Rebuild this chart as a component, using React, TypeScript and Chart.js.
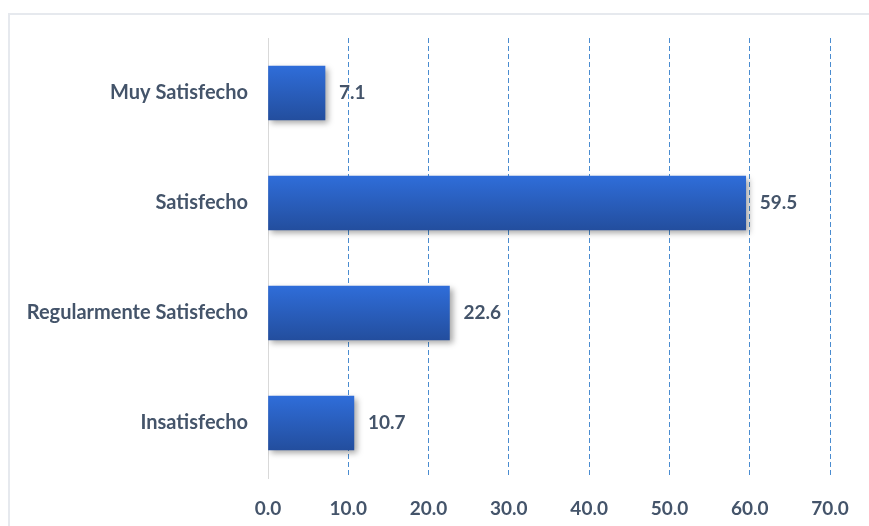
import React, { useEffect, useRef } from "react";
import { Chart, registerables } from "chart.js";

Chart.register(...registerables);

const categories = ["Muy Satisfecho", "Satisfecho", "Regularmente Satisfecho", "Insatisfecho"];
const values = [7.1, 59.5, 22.6, 10.7];
const xTicks = [0, 10, 20, 30, 40, 50, 60, 70];

const TEXT = "#44546A";
const FONT = "Lato";
const BAR_T = 54;

const shadowPlugin = {
  id: "barShadow",
  beforeDatasetsDraw(chart: any) {
    const ctx = chart.ctx;
    ctx.save();
    ctx.shadowColor = "rgba(0,0,0,0.35)";
    ctx.shadowBlur = 6;
    ctx.shadowOffsetX = 3;
    ctx.shadowOffsetY = 3;
  },
  afterDatasetsDraw(chart: any) {
    chart.ctx.restore();
    const ctx = chart.ctx;
    const meta = chart.getDatasetMeta(0);
    ctx.save();
    ctx.fillStyle = TEXT;
    ctx.font = `bold 19px ${FONT}`;
    ctx.textAlign = "left";
    ctx.textBaseline = "middle";
    meta.data.forEach((bar: any, i: number) => {
      ctx.fillText(values[i].toFixed(1), bar.x + 14, bar.y);
    });
    ctx.restore();
  },
};

export default function App() {
  const ref = useRef<HTMLCanvasElement>(null);
  useEffect(() => {
    const canvas = ref.current!;
    const chart = new Chart(canvas, {
      type: "bar",
      data: {
        labels: categories,
        datasets: [
          {
            data: values,
            barThickness: BAR_T,
            borderWidth: 0,
            backgroundColor: (c: any) => {
              const ch = c.chart;
              if (!ch.chartArea || c.dataIndex === undefined) return "#2A5DC0";
              const y = ch.scales.y.getPixelForValue(c.dataIndex);
              const g = ch.ctx.createLinearGradient(0, y - BAR_T / 2, 0, y + BAR_T / 2);
              g.addColorStop(0, "#2F6DD9");
              g.addColorStop(1, "#234E9E");
              return g;
            },
          },
        ],
      },
      options: {
        indexAxis: "y",
        responsive: false,
        animation: false,
        layout: { padding: { left: 0, top: 38, right: 39, bottom: 0 } },
        plugins: { legend: { display: false }, tooltip: { enabled: false } },
        scales: {
          x: {
            min: 0,
            max: 70,
            afterBuildTicks: (s: any) => {
              s.ticks = xTicks.map((v) => ({ value: v }));
            },
            afterFit: (s: any) => {
              s.height = 48;
            },
            grid: {
              color: (c: any) => (c.tick && c.tick.value === 0 ? "rgba(0,0,0,0)" : "#4A8CD0"),
              lineWidth: 1,
              drawTicks: false,
            },
            border: { display: false, dash: [5, 3] },
            ticks: {
              padding: 19,
              color: TEXT,
              font: { family: FONT, size: 19, weight: "bold" },
              callback: (v: any) => Number(v).toFixed(1),
            },
          },
          y: {
            afterFit: (s: any) => {
              s.width = 268;
            },
            grid: { display: false, drawTicks: false },
            border: { display: true, color: "#D9D9D9", width: 1 },
            ticks: {
              padding: 20,
              color: TEXT,
              font: { family: FONT, size: 20, weight: "bold" },
            },
          },
        },
      },
      plugins: [shadowPlugin],
    });
    return () => chart.destroy();
  }, []);

  return (
    <div style={{ position: "fixed", left: 0, top: 0, width: 869, height: 526, overflow: "hidden", background: "#fff" }}>
      <div
        style={{
          position: "absolute",
          left: 8,
          top: 13,
          width: 900,
          height: 600,
          border: "2px solid #E6E9EE",
          boxSizing: "border-box",
        }}
      />
      <canvas ref={ref} width={869} height={526} style={{ position: "absolute", left: 0, top: 0 }} />
    </div>
  );
}
